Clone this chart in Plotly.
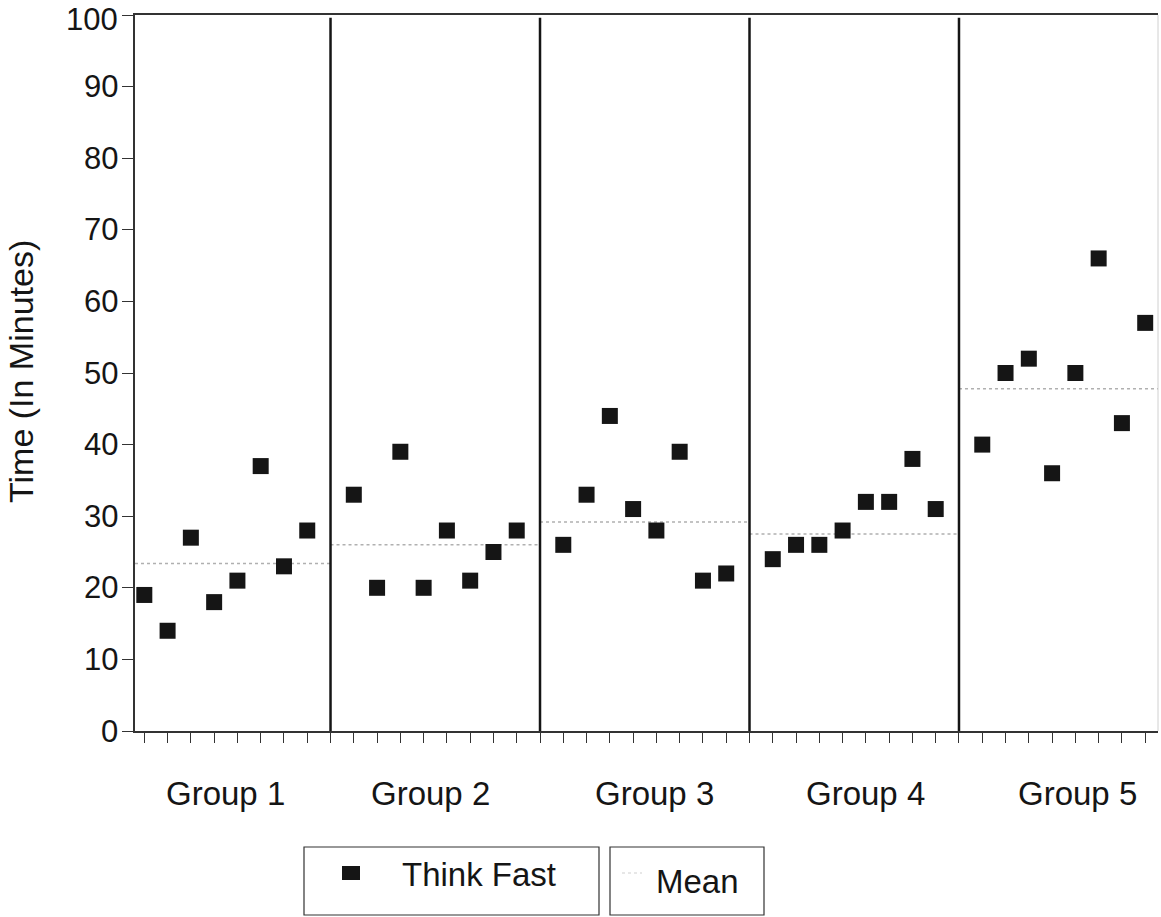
import plotly.graph_objects as go

# ---------------- data ----------------
group_names = ["Group 1", "Group 2", "Group 3", "Group 4", "Group 5"]
group_1_times = [19, 14, 27, 18, 21, 37, 23, 28]
group_2_times = [33, 20, 39, 20, 28, 21, 25, 28]
group_3_times = [26, 33, 44, 31, 28, 39, 21, 22]
group_4_times = [24, 26, 26, 28, 32, 32, 38, 31]
group_5_times = [40, 50, 52, 36, 50, 66, 43, 57]
group_means = [23.4, 26.0, 29.2, 27.5, 47.8]
y_ticks = [0, 10, 20, 30, 40, 50, 60, 70, 80, 90, 100]

series_name = "Think Fast"
mean_name = "Mean"
y_title = "Time (In Minutes)"

groups = [group_1_times, group_2_times, group_3_times, group_4_times, group_5_times]

# ---------------- layout helpers ----------------
FONT = "Liberation Sans, Arial, Helvetica, sans-serif"
INK = "#151515"
slot = max(len(g) for g in groups) + 1          # 8 points + 1 separator slot
n_slots = slot * len(groups) - 1
x_min, x_max = -0.4, n_slots - 1 + 0.55

PW = 1023.0   # plot width px
PH = 716.0    # plot height px
def px(xp):
    return (xp - 135) / PW
def py(yp):
    return (731 - yp) / PH

fig = go.Figure()

xs_all, ys_all = [], []
for gi, vals in enumerate(groups):
    for j, v in enumerate(vals):
        xs_all.append(gi * slot + j)
        ys_all.append(v)

# mean lines (one per group, spanning the group's cell)
for gi, m in enumerate(group_means):
    start = x_min if gi == 0 else gi * slot - 1
    end = x_max if gi == len(groups) - 1 else gi * slot + slot - 1
    fig.add_trace(go.Scatter(
        x=[start, end], y=[m, m], mode="lines",
        line=dict(color="#b0b0b0", width=1.5, dash="dot"),
        hoverinfo="skip", showlegend=False))

fig.add_trace(go.Scatter(
    x=xs_all, y=ys_all, mode="markers", name=series_name,
    marker=dict(symbol="square", size=16, color=INK),
    showlegend=False))

shapes = []
# group separators
for gi in range(1, len(groups)):
    xsep = gi * slot - 1
    shapes.append(dict(type="line", xref="x", yref="paper", x0=xsep, x1=xsep,
                       y0=0, y1=0.996, line=dict(color=INK, width=2.5)))
# faint right border
shapes.append(dict(type="line", xref="paper", yref="paper", x0=1, x1=1, y0=0, y1=1,
                   line=dict(color="#d0d0d0", width=1)))

# legend boxes (two separate boxes)
shapes.append(dict(type="rect", xref="paper", yref="paper",
                   x0=px(304), x1=px(599), y0=py(915), y1=py(847),
                   line=dict(color="#333", width=1.2), fillcolor="white"))
shapes.append(dict(type="rect", xref="paper", yref="paper",
                   x0=px(610), x1=px(764), y0=py(915), y1=py(847),
                   line=dict(color="#333", width=1.2), fillcolor="white"))
# legend marker
shapes.append(dict(type="rect", xref="paper", yref="paper",
                   x0=px(342), x1=px(360), y0=py(880), y1=py(866),
                   line=dict(width=0), fillcolor=INK))
# legend mean sample
shapes.append(dict(type="line", xref="paper", yref="paper",
                   x0=px(622), x1=px(642), y0=py(873), y1=py(873),
                   line=dict(color="#d0d0d0", width=1.2, dash="dot")))

annotations = []
# y tick labels
top_tick = max(y_ticks)
for t in y_ticks:
    annotations.append(dict(text=str(t), x=0, xref="paper", y=t, yref="y",
                            xanchor="right", yanchor="middle", xshift=-15,
                            yshift=-4 if t == top_tick else 0,
                            showarrow=False,
                            font=dict(family=FONT, size=31, color=INK)))
# y title
annotations.append(dict(text=y_title, x=px(21), xref="paper", y=py(372), yref="paper",
                        xanchor="center", yanchor="middle", textangle=-90,
                        showarrow=False, font=dict(family=FONT, size=34, color=INK)))
# group labels
label_x = [3.5, 12.3, 21.9, 31.0, 40.1]
for name, lx in zip(group_names, label_x):
    annotations.append(dict(text=name, x=lx, xref="x", y=py(794), yref="paper",
                            xanchor="center", yanchor="middle", showarrow=False,
                            font=dict(family=FONT, size=33, color=INK)))
annotations.append(dict(text=series_name, x=px(400), xref="paper", y=py(874), yref="paper",
                        xanchor="left", yanchor="middle", showarrow=False,
                        font=dict(family=FONT, size=33, color=INK)))
annotations.append(dict(text=mean_name, x=px(654), xref="paper", y=py(881), yref="paper",
                        xanchor="left", yanchor="middle", showarrow=False,
                        font=dict(family=FONT, size=33, color=INK)))

fig.update_layout(
    width=1161, height=917,
    margin=dict(l=135, r=3, t=15, b=186),
    paper_bgcolor="white", plot_bgcolor="white",
    font=dict(family=FONT, size=31, color=INK),
    shapes=shapes, annotations=annotations,
    showlegend=False,
    xaxis=dict(range=[x_min, x_max], tickmode="array",
               tickvals=list(range(0, n_slots)), ticks="outside", ticklen=10,
               tickwidth=1.2, tickcolor="#333", showticklabels=False,
               showgrid=False, zeroline=False, showline=True, linecolor="#333",
               linewidth=1.5, mirror=True, fixedrange=True),
    yaxis=dict(range=[0, 100], tickmode="array", tickvals=y_ticks,
               ticks="outside", ticklen=11, tickwidth=1.2, tickcolor="#333",
               showticklabels=False,
               showgrid=False, zeroline=False, showline=True, linecolor="#333",
               linewidth=1.5),
)

fig.write_html("out.html")
